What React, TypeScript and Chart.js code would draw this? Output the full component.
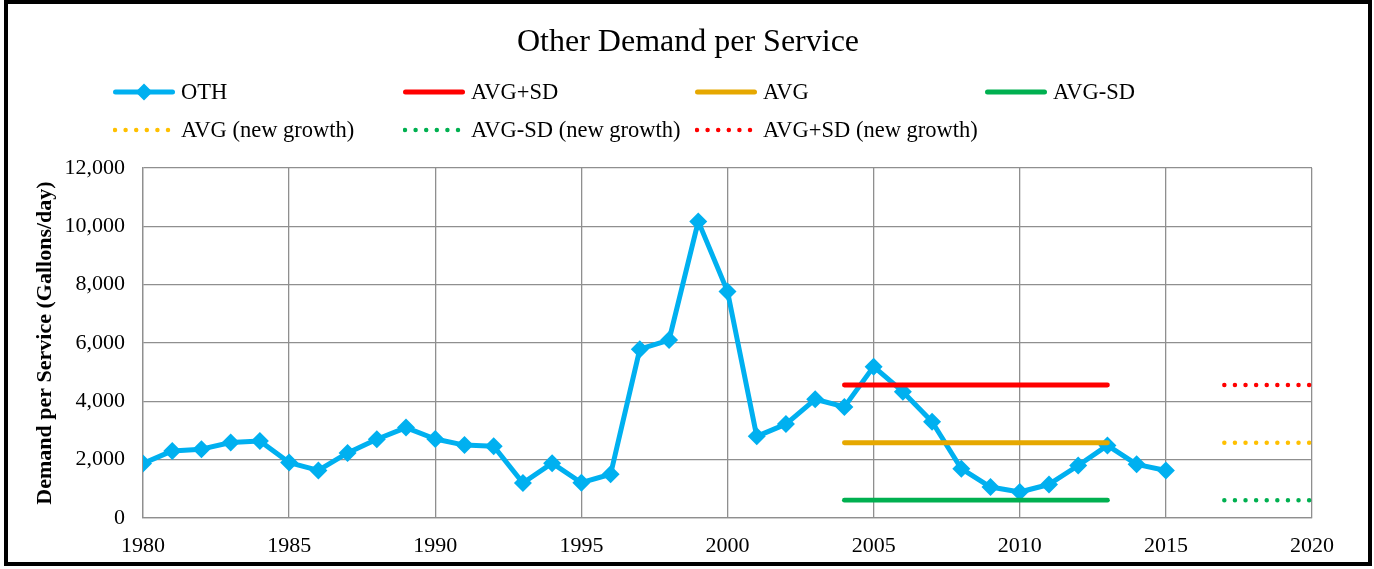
import React, { useEffect, useRef } from "react";
import { Chart, registerables } from "chart.js";

Chart.register(...registerables);

// ---- data ----
const years = [
  1980, 1981, 1982, 1983, 1984, 1985, 1986, 1987, 1988, 1989,
  1990, 1991, 1992, 1993, 1994, 1995, 1996, 1997, 1998, 1999,
  2000, 2001, 2002, 2003, 2004, 2005, 2006, 2007, 2008, 2009,
  2010, 2011, 2012, 2013, 2014, 2015,
];
const othValues = [
  1870, 2300, 2360, 2590, 2640, 1900, 1630, 2230, 2700, 3100,
  2710, 2500, 2460, 1200, 1880, 1210, 1500, 5790, 6100, 10170,
  7770, 2800, 3220, 4070, 3810, 5190, 4330, 3300, 1690, 1060,
  890, 1150, 1800, 2490, 1840, 1630,
];
const historicalPeriod = [2004, 2013];
const newGrowthPeriod = [2017, 2020];
const avgPlusSd = 4560;
const avgValue = 2580;
const avgMinusSd = 610;

const xTicks = [1980, 2020, 5]; // min, max, step
const yTicks = [0, 12000, 2000]; // min, max, step

const titleText = "Other Demand per Service";
const yAxisTitle = "Demand per Service (Gallons/day)";

const COLORS = {
  oth: "#00B0F0",
  red: "#FF0000",
  gold: "#E6A800",
  green: "#00B050",
  yellow: "#FFC000",
  grid: "#8f8f8f",
};

const FONT = '"Liberation Serif", "Times New Roman", serif';

type LegendItem = { label: string; color: string; kind: "marker" | "solid" | "dotted" };
const legendRow1: LegendItem[] = [
  { label: "OTH", color: COLORS.oth, kind: "marker" },
  { label: "AVG+SD", color: COLORS.red, kind: "solid" },
  { label: "AVG", color: COLORS.gold, kind: "solid" },
  { label: "AVG-SD", color: COLORS.green, kind: "solid" },
];
const legendRow2: LegendItem[] = [
  { label: "AVG (new growth)", color: COLORS.yellow, kind: "dotted" },
  { label: "AVG-SD (new growth)", color: COLORS.green, kind: "dotted" },
  { label: "AVG+SD (new growth)", color: COLORS.red, kind: "dotted" },
];
const legendCols = [115, 405, 697, 987];
const legendRows = [92, 130];

function seg(period: number[], y: number) {
  return [
    { x: period[0], y },
    { x: period[1], y },
  ];
}

function Swatch({ item }: { item: LegendItem }) {
  if (item.kind === "dotted") {
    return (
      <svg width={62} height={10} style={{ display: "block" }}>
        <line x1={2} y1={5} x2={56} y2={5} stroke={item.color} strokeWidth={4.5}
          strokeLinecap="round" strokeDasharray="0 10.6" />
      </svg>
    );
  }
  return (
    <svg width={62} height={20} style={{ display: "block" }}>
      <line x1={2.5} y1={10} x2={59.5} y2={10} stroke={item.color} strokeWidth={5}
        strokeLinecap="round" />
      {item.kind === "marker" && (
        <polygon points="31,1.5 39.5,10 31,18.5 22.5,10" fill={item.color} />
      )}
    </svg>
  );
}

export default function App() {
  const canvasRef = useRef<HTMLCanvasElement | null>(null);

  useEffect(() => {
    const canvas = canvasRef.current;
    if (!canvas) return;
    const lineSolid = (label: string, data: any, color: string) => ({
      label,
      data,
      borderColor: color,
      backgroundColor: color,
      borderWidth: 4.8,
      borderCapStyle: "round" as const,
      pointRadius: 0,
      order: 0,
    });
    const lineDotted = (label: string, data: any, color: string) => ({
      label,
      data,
      borderColor: color,
      backgroundColor: color,
      borderWidth: 4.5,
      borderCapStyle: "round" as const,
      borderDash: [0, 10.6],
      pointRadius: 0,
      order: 0,
    });
    const chart = new Chart(canvas, {
      type: "line",
      data: {
        datasets: [
          lineSolid("AVG+SD", seg(historicalPeriod, avgPlusSd), COLORS.red),
          lineSolid("AVG", seg(historicalPeriod, avgValue), COLORS.gold),
          lineSolid("AVG-SD", seg(historicalPeriod, avgMinusSd), COLORS.green),
          lineDotted("AVG (new growth)", seg(newGrowthPeriod, avgValue), COLORS.yellow),
          lineDotted("AVG-SD (new growth)", seg(newGrowthPeriod, avgMinusSd), COLORS.green),
          lineDotted("AVG+SD (new growth)", seg(newGrowthPeriod, avgPlusSd), COLORS.red),
          {
            label: "OTH",
            data: years.map((x, i) => ({ x, y: othValues[i] })),
            borderColor: COLORS.oth,
            backgroundColor: COLORS.oth,
            borderWidth: 5,
            borderJoinStyle: "round",
            pointStyle: "rectRot",
            pointRadius: 9,
            pointBorderWidth: 0,
            pointBackgroundColor: COLORS.oth,
            order: 5,
          } as any,
        ],
      },
      options: {
        responsive: false,
        animation: false,
        events: [],
        layout: { padding: { left: 20, top: 168, right: 62, bottom: 0 } },
        plugins: {
          legend: { display: false },
          title: { display: false },
          tooltip: { enabled: false },
        },
        scales: {
          x: {
            type: "linear",
            min: xTicks[0],
            max: xTicks[1],
            ticks: {
              stepSize: xTicks[2],
              callback: (v: any) => String(v),
              font: { family: FONT, size: 22 },
              color: "#000",
              padding: 15,
              maxRotation: 0,
              autoSkip: false,
            },
            grid: { color: COLORS.grid, lineWidth: 1.3, drawTicks: false },
            border: { color: COLORS.grid, width: 1.3 },
            afterFit: (s: any) => {
              s.height = 51;
            },
          },
          y: {
            type: "linear",
            min: yTicks[0],
            max: yTicks[1],
            ticks: {
              stepSize: yTicks[2],
              font: { family: FONT, size: 22 },
              color: "#000",
              padding: 18,
            },
            grid: { color: COLORS.grid, lineWidth: 1.3, drawTicks: false },
            border: { color: COLORS.grid, width: 1.3 },
            title: {
              display: true,
              text: yAxisTitle,
              font: { family: FONT, size: 22, weight: "bold" },
              color: "#000",
              padding: { top: 12, bottom: 0 },
            },
            afterFit: (s: any) => {
              s.width = 123;
            },
          },
        },
      } as any,
    });
    return () => chart.destroy();
  }, []);

  const renderLegendRow = (items: LegendItem[], rowIdx: number) =>
    items.map((item, i) => (
      <div
        key={`${rowIdx}-${i}`}
        style={{
          position: "absolute",
          left: legendCols[i] - 2,
          top: legendRows[rowIdx] - 15,
          height: 30,
          display: "flex",
          alignItems: "center",
          whiteSpace: "nowrap",
        }}
      >
        <Swatch item={item} />
        <span style={{ marginLeft: 6, fontSize: 22.5, lineHeight: "30px" }}>{item.label}</span>
      </div>
    ));

  return (
    <div
      style={{
        position: "absolute",
        left: 0,
        top: 0,
        width: 1374,
        height: 569,
        background: "#fff",
        fontFamily: FONT,
        color: "#000",
        overflow: "hidden",
      }}
    >
      <canvas
        ref={canvasRef}
        width={1374}
        height={569}
        style={{ position: "absolute", left: 0, top: 0, width: 1374, height: 569 }}
      />
      <div
        style={{
          position: "absolute",
          left: 4,
          top: 0,
          width: 1368,
          height: 566,
          border: "4px solid #000",
          boxSizing: "border-box",
          pointerEvents: "none",
        }}
      />
      <div
        style={{
          position: "absolute",
          left: 4,
          width: 1368,
          top: 20,
          height: 40,
          lineHeight: "40px",
          textAlign: "center",
          fontSize: 32,
        }}
      >
        {titleText}
      </div>
      {renderLegendRow(legendRow1, 0)}
      {renderLegendRow(legendRow2, 1)}
    </div>
  );
}
